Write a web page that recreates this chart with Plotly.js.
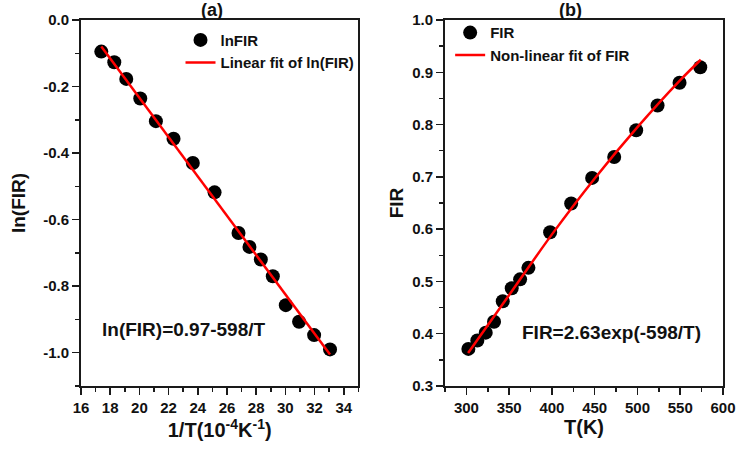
<!DOCTYPE html>
<html>
<head>
<meta charset="utf-8">
<script src="https://cdn.plot.ly/plotly-3.0.1.min.js"></script>
<style>html,body{margin:0;padding:0;background:#fff;}#chart{width:738px;height:451px;}</style>
</head>
<body>
<div id="chart"></div>
<script>
// Panel (a): ln(FIR) vs 1/T (10^-4 K^-1)
const invT = [17.39, 18.28, 19.10, 20.06, 21.13, 22.34, 23.66, 25.15, 26.79, 27.54, 28.32, 29.14, 30.03, 30.94, 31.97, 33.06];
const lnFIR = [-0.095, -0.127, -0.177, -0.236, -0.304, -0.357, -0.430, -0.518, -0.640, -0.682, -0.720, -0.770, -0.857, -0.907, -0.947, -0.990];
const fitInvT = [17.39, 33.06];
const fitLnFIR = [-0.08, -1.005];

// Panel (b): FIR vs T (K)
const tempK = [302.3, 312.8, 322.6, 332.3, 342.5, 353.0, 362.8, 372.5, 397.9, 422.5, 447.0, 472.8, 498.5, 523.5, 549.2, 573.4];
const firVals = [0.371, 0.387, 0.402, 0.423, 0.462, 0.487, 0.504, 0.526, 0.594, 0.649, 0.698, 0.738, 0.789, 0.8365, 0.880, 0.9095];
const fitTempK = [302, 350, 400, 450, 500, 550, 574];
const fitFIR = [0.363, 0.474, 0.590, 0.697, 0.795, 0.885, 0.924];

// Tick labels
const leftXTickVals = [16, 18, 20, 22, 24, 26, 28, 30, 32, 34];
const leftXTickText = ['16', '18', '20', '22', '24', '26', '28', '30', '32', '34'];
const leftYTickVals = [0, -0.2, -0.4, -0.6, -0.8, -1.0];
const leftYTickText = ['0.0', '-0.2', '-0.4', '-0.6', '-0.8', '-1.0'];
const rightXTickVals = [300, 350, 400, 450, 500, 550, 600];
const rightXTickText = ['300', '350', '400', '450', '500', '550', '600'];
const rightYTickVals = [0.3, 0.4, 0.5, 0.6, 0.7, 0.8, 0.9, 1.0];
const rightYTickText = ['0.3', '0.4', '0.5', '0.6', '0.7', '0.8', '0.9', '1.0'];

const FAM = 'Liberation Sans, Arial, sans-serif';
const AX = '#1a1a1a';

function axis(extra) {
  return Object.assign({
    showgrid: false, zeroline: false, showline: true, linecolor: AX, linewidth: 2,
    mirror: true, ticks: 'outside', ticklen: 7, tickwidth: 1.5, tickcolor: AX,
    tickfont: {family: FAM, size: 15, weight: 'bold', color: '#111'},
    tickmode: 'array'
  }, extra);
}

const traces = [
  {x: invT, y: lnFIR, type: 'scatter', mode: 'markers', name: 'lnFIR',
   marker: {color: '#000', size: 14, symbol: 'circle'}, xaxis: 'x', yaxis: 'y', legend: 'legend'},
  {x: fitInvT, y: fitLnFIR, type: 'scatter', mode: 'lines', name: 'Linear fit of ln(FIR)',
   line: {color: '#ff0000', width: 2.5}, xaxis: 'x', yaxis: 'y', legend: 'legend'},
  {x: tempK, y: firVals, type: 'scatter', mode: 'markers', name: 'FIR',
   marker: {color: '#000', size: 14, symbol: 'circle'}, xaxis: 'x2', yaxis: 'y2', legend: 'legend2'},
  {x: fitTempK, y: fitFIR, type: 'scatter', mode: 'lines', name: 'Non-linear fit of FIR',
   line: {color: '#ff0000', width: 2.5, shape: 'spline'}, xaxis: 'x2', yaxis: 'y2', legend: 'legend2'}
];

const legendBase = {
  bgcolor: 'rgba(0,0,0,0)', borderwidth: 0, xanchor: 'left', yanchor: 'top',
  font: {family: FAM, size: 15, weight: 'bold', color: '#111'}, tracegroupgap: 0
};

const layout = {
  width: 738, height: 451,
  margin: {l: 81, r: 15, t: 20, b: 65},
  paper_bgcolor: '#fff', plot_bgcolor: '#fff',
  showlegend: true,
  xaxis: axis({domain: [0, 0.432], range: [16, 35], anchor: 'y',
    tickvals: leftXTickVals, ticktext: leftXTickText,
    minor: {dtick: 1, tick0: 16, ticks: 'outside', ticklen: 4, tickwidth: 1.5, tickcolor: AX},
    title: {text: '1/T(10<sup>-4</sup>K<sup>-1</sup>)', standoff: 5,
      font: {family: FAM, size: 20, weight: 'bold', color: '#111'}}}),
  yaxis: axis({domain: [0, 1], range: [-1.1, 0], anchor: 'x',
    tickvals: leftYTickVals, ticktext: leftYTickText,
    minor: {dtick: 0.1, tick0: 0, ticks: 'outside', ticklen: 4, tickwidth: 1.5, tickcolor: AX},
    title: {text: 'ln(FIR)', standoff: 12,
      font: {family: FAM, size: 19, weight: 'bold', color: '#111'}}}),
  xaxis2: axis({domain: [0.567, 1], range: [275, 600], anchor: 'y2',
    tickvals: rightXTickVals, ticktext: rightXTickText,
    minor: {dtick: 25, tick0: 275, ticks: 'outside', ticklen: 4, tickwidth: 1.5, tickcolor: AX},
    title: {text: 'T(K)', standoff: 5,
      font: {family: FAM, size: 20, weight: 'bold', color: '#111'}}}),
  yaxis2: axis({domain: [0, 1], range: [0.3, 1.0], anchor: 'x2',
    tickvals: rightYTickVals, ticktext: rightYTickText,
    minor: {dtick: 0.05, tick0: 0.3, ticks: 'outside', ticklen: 4, tickwidth: 1.5, tickcolor: AX},
    title: {text: 'FIR', standoff: 4,
      font: {family: FAM, size: 19, weight: 'bold', color: '#111'}}}),
  legend: Object.assign({x: 0.155, y: 0.99}, legendBase),
  legend2: Object.assign({x: 0.575, y: 1.01}, legendBase),
  annotations: [
    {text: '(a)', xref: 'paper', yref: 'paper', x: 0.204, y: 1.027, xanchor: 'center', yanchor: 'middle',
     showarrow: false, font: {family: FAM, size: 18, weight: 'bold', color: '#111'}},
    {text: '(b)', xref: 'paper', yref: 'paper', x: 0.763, y: 1.027, xanchor: 'center', yanchor: 'middle',
     showarrow: false, font: {family: FAM, size: 18, weight: 'bold', color: '#111'}},
    {text: 'ln(FIR)=0.97-598/T', xref: 'x', yref: 'y', x: 17.32, y: -0.93, xanchor: 'left', yanchor: 'middle',
     showarrow: false, font: {family: FAM, size: 19, weight: 'bold', color: '#111'}},
    {text: 'FIR=2.63exp(-598/T)', xref: 'x2', yref: 'y2', x: 362.8, y: 0.403, xanchor: 'left', yanchor: 'middle',
     showarrow: false, font: {family: FAM, size: 19, weight: 'bold', color: '#111'}}
  ]
};

Plotly.newPlot('chart', traces, layout, {displayModeBar: false, staticPlot: true});
</script>
</body>
</html>
